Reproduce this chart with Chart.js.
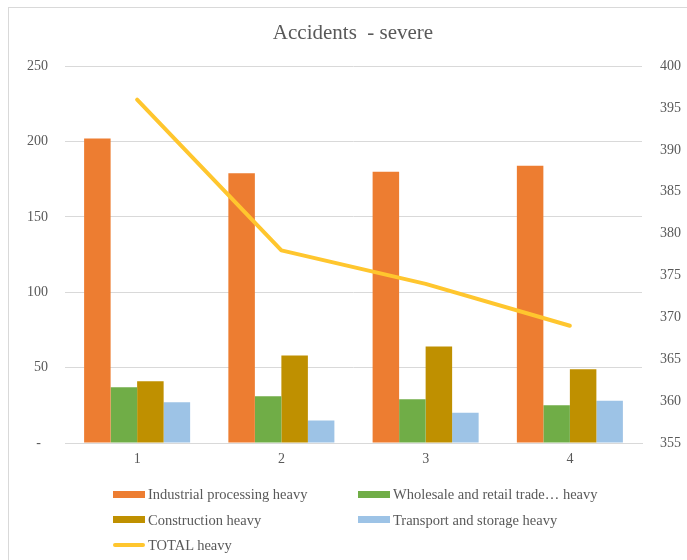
<!DOCTYPE html>
<html>
<head>
<meta charset="utf-8">
<script src="https://cdn.jsdelivr.net/npm/chart.js@4"></script>
<style>
html,body{margin:0;padding:0;background:#fff;width:687px;height:560px;overflow:hidden;position:relative}
#frame{position:absolute;left:8px;top:7px;width:700px;height:600px;border:1px solid #d9d9d9;box-sizing:border-box}
#wrap{position:absolute;left:8px;top:7px;width:690px;height:553px}
#legend{position:absolute;left:0;top:0;width:687px;height:560px;pointer-events:none;font-family:"Liberation Serif","Times New Roman",serif;font-size:14.5px;color:#595959}
.li{position:absolute;white-space:nowrap;line-height:16px}
.sw{display:inline-block;position:absolute;left:0;width:32px}
</style>
</head>
<body>
<div id="frame"></div>
<div id="wrap"><canvas id="chartAcc"></canvas></div>
<div id="legend"></div>
<script>
// --- Datos ---
var categorias=['1','2','3','4'];
var industrial=[202,179,180,184];
var comercio=[37,31,29,25];
var construccion=[41,58,64,49];
var transporte=[27,15,20,28];
var total=[396,378,374,369];

var nombres=['Industrial processing heavy','Wholesale and retail trade\u2026 heavy','Construction heavy','Transport and storage heavy','TOTAL heavy'];
var colores=['#ED7D31','#70AD47','#BF9000','#9DC3E6','#FFC62E'];
var gris='#595959',fuente='"Liberation Serif","Times New Roman",serif';

function barra(i,data){
  return {type:'bar',label:nombres[i],data:data,backgroundColor:colores[i],borderWidth:0,
    yAxisID:'y',order:1,barPercentage:1,categoryPercentage:0.735};
}

var ctx=document.getElementById('chartAcc');
new Chart(ctx,{
  data:{
    labels:categorias,
    datasets:[
      barra(0,industrial),barra(1,comercio),barra(2,construccion),barra(3,transporte),
      {type:'line',label:nombres[4],data:total,borderColor:colores[4],borderWidth:4,pointRadius:0,
        fill:false,tension:0,yAxisID:'y2',order:0,borderCapStyle:'round',borderJoinStyle:'round'}
    ]
  },
  options:{
    responsive:true,maintainAspectRatio:false,animation:false,
    layout:{padding:0},
    plugins:{
      legend:{display:false},tooltip:{enabled:false},
      title:{display:true,text:'Accidents  - severe',color:gris,font:{family:fuente,size:21,weight:'normal'},padding:{top:14,bottom:20}}
    },
    scales:{
      x:{
        grid:{display:false,drawTicks:false},
        border:{display:true,color:'#d9d9d9'},
        ticks:{color:gris,font:{family:fuente,size:14},padding:8},
        afterFit:function(s){s.height=117;}
      },
      y:{
        position:'left',min:0,max:250,
        grid:{color:'#d9d9d9',drawTicks:false},
        border:{display:false},
        ticks:{stepSize:50,color:gris,font:{family:fuente,size:14},padding:17,
          callback:function(v){return v===0?'-  ':v;}},
        afterFit:function(s){s.width=57;}
      },
      y2:{
        position:'right',min:355,max:400,
        grid:{display:false,drawTicks:false},
        border:{display:false},
        ticks:{stepSize:5,color:gris,font:{family:fuente,size:14},padding:18},
        afterFit:function(s){s.width=56;}
      }
    }
  }
});

// Leyenda en dos columnas
var filas=[[0,1],[2,3],[4]];
var lg=document.getElementById('legend'),h='';
filas.forEach(function(f,r){
  var y=494+r*25.5;
  f.forEach(function(i,c){
    var x=c===0?113:358;
    var alto=i===4?4:7;
    h+='<div class="li" style="left:'+x+'px;top:'+(y-8)+'px;padding-left:35px">'+
       '<span class="sw" style="top:'+(8-alto/2)+'px;height:'+alto+'px;background:'+colores[i]+';'+(i===4?'border-radius:2px':'')+'"></span>'+nombres[i]+'</div>';
  });
});
lg.innerHTML=h;
</script>
</body>
</html>
